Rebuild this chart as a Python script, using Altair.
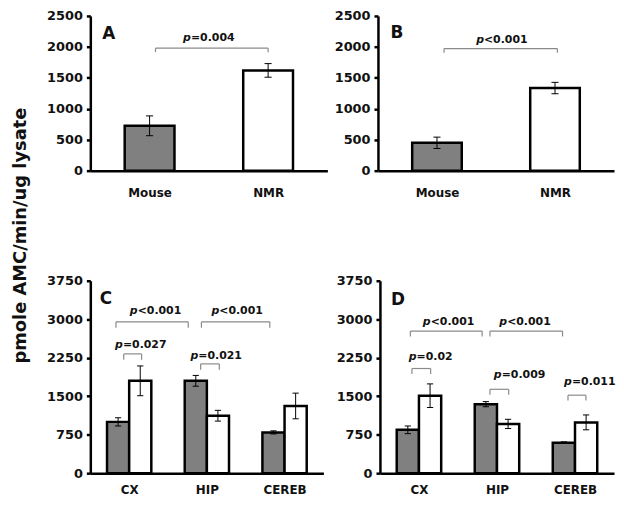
import json
import altair as alt
import pandas as pd

# ---------------- data ----------------
regions = ["CX", "HIP", "CEREB"]
species = ["Mouse", "NMR"]

a_mean = [725, 1620]
a_err = [160, 110]
b_mean = [450, 1335]
b_err = [92, 92]

c_mouse = [1000, 1800, 795]
c_mouse_err = [80, 105, 30]
c_nmr = [1800, 1120, 1310]
c_nmr_err = [290, 105, 250]

d_mouse = [845, 1345, 595]
d_mouse_err = [75, 50, 15]
d_nmr = [1510, 960, 990]
d_nmr_err = [230, 90, 145]

y_ticks_ab = [0, 500, 1000, 1500, 2000, 2500]
y_ticks_cd = [0, 750, 1500, 2250, 3000, 3750]

# significance annotations: brackets (x1, x2, y) and labels (centre x, y, text after "p")
a_brackets = [(0.55, 1.50, 1980)]
a_pvals = [(1.00, 2140, "=0.004")]
b_brackets = [(0.56, 1.52, 1972)]
b_pvals = [(1.05, 2112, "<0.001")]
c_brackets = [(0.33, 1.26, 2950), (1.43, 2.31, 2950), (0.43, 0.66, 2325), (1.42, 1.66, 2130)]
c_pvals = [(0.84, 3165, "<0.001"), (1.89, 3165, "<0.001"), (0.65, 2500, "=0.027"), (1.62, 2285, "=0.021")]
d_brackets = [(0.39, 1.31, 2770), (1.41, 2.34, 2770), (0.41, 0.65, 2040), (1.41, 1.65, 1635), (2.41, 2.64, 1520)]
d_pvals = [(0.88, 2940, "<0.001"), (1.86, 2940, "<0.001"), (0.65, 2270, "=0.02"), (1.79, 1905, "=0.009"), (2.69, 1770, "=0.011")]

FONT = "DejaVu Sans"
GRAY = "#808080"
TXT = "#111111"
BRK = "#8a8a8a"
PFS = 11

CW = {"=": 0.838, "<": 0.838, ".": 0.380, "p": 0.716}


def text_w(s, fs):
    return sum(CW.get(ch, 0.696) for ch in s) * fs


def bars_single(means, errs):
    rows = []
    for i, (m, e) in enumerate(zip(means, errs)):
        c = i + 0.5
        rows.append(dict(group=species[i], x0=c - 0.21, x1=c + 0.21, xc=c,
                         mean=m, lo=m - e, hi=m + e, zero=0))
    return pd.DataFrame(rows)


def bars_grouped(m_mouse, e_mouse, m_nmr, e_nmr, w=0.285):
    rows = []
    for i in range(len(regions)):
        c = i + 0.5
        rows.append(dict(group="Mouse", x0=c - w, x1=c, xc=c - w / 2,
                         mean=m_mouse[i], lo=m_mouse[i] - e_mouse[i], hi=m_mouse[i] + e_mouse[i], zero=0))
        rows.append(dict(group="NMR", x0=c, x1=c + w, xc=c + w / 2,
                         mean=m_nmr[i], lo=m_nmr[i] - e_nmr[i], hi=m_nmr[i] + e_nmr[i], zero=0))
    return pd.DataFrame(rows)


def panel(bars, cats, yticks, brackets, pvals, letter, letter_pos,
          tick_len, cap_half, width, height, label_pad):
    ndom = len(cats)
    ppu = width / ndom
    xsc = alt.Scale(domain=[0, ndom], nice=False, zero=False)
    ysc = alt.Scale(domain=[0, yticks[-1]], nice=False)
    label_expr = json.dumps(cats) + "[floor(datum.value)]"
    xaxis = alt.Axis(values=[i + 0.5 for i in range(ndom)], labelExpr=label_expr,
                     ticks=False, tickSize=0, grid=False, domainColor="black", domainWidth=2.5,
                     labelFont=FONT, labelFontSize=12, labelFontWeight="bold", labelColor=TXT,
                     labelPadding=label_pad, labelFlush=False, labelOverlap=False, title=None)
    yaxis = alt.Axis(values=yticks, grid=False, domainColor="black", domainWidth=2.5,
                     tickColor="black", tickWidth=2.5, tickSize=4,
                     labelFont=FONT, labelFontSize=13, labelFontWeight="bold", labelColor=TXT,
                     labelPadding=4, labelOverlap=False, labelFlush=False, title=None, format="d")

    def X(f):
        return alt.X(f, type="quantitative", scale=xsc, axis=xaxis)

    def Y(f):
        return alt.Y(f, type="quantitative", scale=ysc, axis=yaxis)

    bars = bars.copy()
    bars["cl"] = bars["xc"] - cap_half
    bars["cr"] = bars["xc"] + cap_half
    base = alt.Chart(bars)
    rect = base.mark_rect(stroke="black", strokeWidth=2.5).encode(
        x=X("x0"), x2="x1", y=Y("mean"), y2="zero",
        fill=alt.Fill("group:N", scale=alt.Scale(domain=species, range=[GRAY, "white"]), legend=None),
    )
    err = base.mark_rule(color="black", strokeWidth=1).encode(x=X("xc"), y=Y("lo"), y2="hi")
    cap_hi = base.mark_rule(color="black", strokeWidth=1).encode(x=X("cl"), x2="cr", y=Y("hi"))
    cap_lo = base.mark_rule(color="black", strokeWidth=1).encode(x=X("cl"), x2="cr", y=Y("lo"))

    segs = []
    for (x1, x2, y) in brackets:
        segs.append(dict(a=x1, b=x2, p=y, q=y))
        segs.append(dict(a=x1, b=x1, p=y - tick_len, q=y))
        segs.append(dict(a=x2, b=x2, p=y - tick_len, q=y))
    brk = alt.Chart(pd.DataFrame(segs)).mark_rule(color=BRK, strokeWidth=1.2).encode(
        x=X("a"), x2="b", y=Y("p"), y2="q")

    labs = []
    for (cx, y, rest) in pvals:
        wp = text_w("p", PFS)
        wr = text_w(rest, PFS)
        split = cx + ((wp - wr) / 2) / ppu
        labs.append(dict(xs=split, y=y, rest=rest))
    ldf = pd.DataFrame(labs)
    p_it = alt.Chart(ldf).mark_text(align="right", baseline="middle", font=FONT, fontSize=PFS,
                                    fontStyle="italic", fontWeight="bold", color=TXT).encode(
        x=X("xs"), y=Y("y"), text=alt.value("p"))
    p_rest = alt.Chart(ldf).mark_text(align="left", baseline="middle", font=FONT, fontSize=PFS,
                                      fontWeight="bold", color=TXT).encode(
        x=X("xs"), y=Y("y"), text="rest:N")

    let = alt.Chart(pd.DataFrame([dict(lx=letter_pos[0], ly=letter_pos[1], t=letter)])).mark_text(
        align="center", baseline="middle", font=FONT, fontSize=17, fontWeight="bold", color=TXT).encode(
        x=X("lx"), y=Y("ly"), text="t:N")

    return alt.layer(rect, err, cap_hi, cap_lo, brk, p_it, p_rest, let).properties(
        width=width, height=height)


pa = panel(bars_single(a_mean, a_err), species, y_ticks_ab, a_brackets, a_pvals, "A", (0.155, 2200),
           65, 0.03, 239, 156, 17)
pb = panel(bars_single(b_mean, b_err), species, y_ticks_ab, b_brackets, b_pvals, "B", (0.16, 2220),
           65, 0.03, 238, 156, 17)
pc = panel(bars_grouped(c_mouse, c_mouse_err, c_nmr, c_nmr_err), regions, y_ticks_cd, c_brackets, c_pvals,
           "C", (0.2, 3400), 115, 0.04, 235, 194, 11)
pd_ = panel(bars_grouped(d_mouse, d_mouse_err, d_nmr, d_nmr_err), regions, y_ticks_cd, d_brackets, d_pvals,
            "D", (0.23, 3365), 105, 0.04, 236, 194, 11)

row1 = alt.hconcat(pa, pb, spacing=6)
row2 = alt.hconcat(pc, pd_, spacing=12)

chart = alt.vconcat(row1, row2, spacing=77).properties(
    title=alt.TitleParams("pmole AMC/min/ug lysate", orient="left", anchor="middle",
                          font=FONT, fontSize=18, fontWeight="bold", color=TXT, offset=15, dx=17, dy=-2),
    padding={"left": 3, "top": 0, "right": 0, "bottom": 0},
).configure_view(stroke=None)

chart.save("out.html", embed_options={"renderer": "svg", "actions": False})
